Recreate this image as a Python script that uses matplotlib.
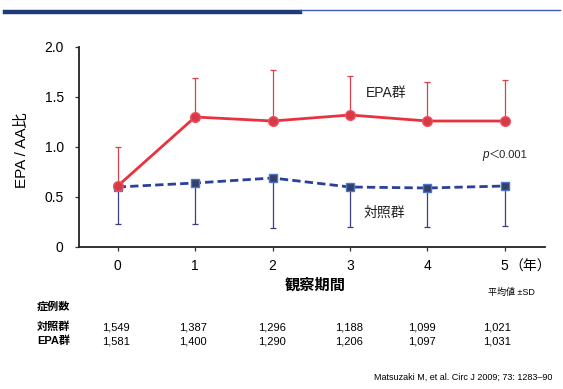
import matplotlib
matplotlib.use("Agg")
import matplotlib.pyplot as plt
from matplotlib.lines import Line2D

plt.rcParams["font.family"] = ["Liberation Sans", "Noto Sans CJK JP"]

# observation period (years)
years = [0, 1, 2, 3, 4, 5]

# EPA/AA ratio, mean and SD (upper whisker only)
epa_mean = [0.61, 1.30, 1.26, 1.32, 1.26, 1.26]
epa_upper = [1.00, 1.69, 1.77, 1.71, 1.65, 1.67]

# control group, mean and SD (lower whisker only)
ctl_mean = [0.60, 0.64, 0.69, 0.60, 0.59, 0.61]
ctl_lower = [0.23, 0.23, 0.19, 0.20, 0.20, 0.21]

ytick_vals = [0, 0.5, 1.0, 1.5, 2.0]
ytick_labels = ["0", "0.5", "1.0", "1.5", "2.0"]

# number of cases table
n_ctl = ["1,549", "1,387", "1,296", "1,188", "1,099", "1,021"]
n_epa = ["1,581", "1,400", "1,290", "1,206", "1,097", "1,031"]

RED = "#e8333f"
BLUE = "#2b3f9c"

W, H = 563, 389
fig = plt.figure(figsize=(W / 100, H / 100), dpi=100)
fig.patch.set_facecolor("white")

# header bar at the top
fig.add_artist(Line2D([5 / W, 300 / W], [1 - 12 / H] * 2, color="#1f3a78", lw=3.2))
fig.add_artist(Line2D([300 / W, 560 / W], [1 - 9.5 / H] * 2, color="#3b5bb8", lw=1.0))

ax = fig.add_axes([79 / W, 1 - 247 / H, (545 - 79) / W, (247 - 47) / H])

# error bars
epa_err = [[0] * len(years), [u - m for u, m in zip(epa_upper, epa_mean)]]
ctl_err = [[m - l for m, l in zip(ctl_mean, ctl_lower)], [0] * len(years)]
ax.errorbar(years, epa_mean, yerr=epa_err, fmt="none", ecolor="#d8404f",
            elinewidth=0.9, capsize=2.5, capthick=0.9, zorder=2)
ax.errorbar(years, ctl_mean, yerr=ctl_err, fmt="none", ecolor="#3a3f80",
            elinewidth=0.9, capsize=2.5, capthick=0.9, zorder=2)

ax.plot(years, ctl_mean, color=BLUE, lw=2.0, ls=(0, (3, 1.5)), marker="s",
        markersize=6, markerfacecolor="#34406a", markeredgecolor="#4a78c8",
        markeredgewidth=1.0, zorder=3)
ax.plot(years, epa_mean, color=RED, lw=2.0, marker="o", markersize=7,
        markerfacecolor="#d63a48", markeredgecolor="#f0505a",
        markeredgewidth=1.0, zorder=4)

ax.set_xlim(-0.5, 5.52)
ax.set_ylim(0, 2.0)
ax.set_xticks(years)
ax.set_xticklabels([str(y) for y in years])
ax.set_yticks(ytick_vals)
ax.set_yticklabels(ytick_labels)
ax.tick_params(axis="both", labelsize=10, length=3, width=0.9, color="#333333")
ax.tick_params(axis="x", pad=6)
ax.tick_params(axis="y", pad=8)
for s in ["top", "right"]:
    ax.spines[s].set_visible(False)
for s in ["left", "bottom"]:
    ax.spines[s].set_linewidth(1.3)
    ax.spines[s].set_color("#222222")

ax.text(3.47, 1.54, "EPA群", fontsize=10, ha="center", va="center", color="#222222")
ax.text(3.45, 0.34, "対照群", fontsize=10, ha="center", va="center", color="#222222")
ax.text(4.80, 0.92, "p", fontsize=8.5, style="italic", ha="right", va="center", color="#222222")
ax.text(4.80, 0.92, "＜0.001", fontsize=8, ha="left", va="center", color="#222222")

fig.text(22 / W, 1 - 150 / H, "EPA / AA比", rotation=90, fontsize=11,
         ha="center", va="center")
fig.text(530 / W, 1 - 267 / H, "（年）", fontsize=10, ha="center", va="center")
fig.text(315 / W, 1 - 286 / H, "観察期間", fontsize=11, fontweight="bold",
         ha="center", va="center")
fig.text(511 / W, 1 - 292 / H, "平均値 ±SD", fontsize=6.5, ha="center", va="center")

fig.text(37 / W, 1 - 306 / H, "症例数", fontsize=8, fontweight="bold", ha="left", va="center")
fig.text(37 / W, 1 - 327 / H, "対照群", fontsize=8, fontweight="bold", ha="left", va="center")
fig.text(37 / W, 1 - 341 / H, "EPA群", fontsize=8, fontweight="bold", ha="left", va="center")
col_x = [102, 179, 258, 335, 408, 483]
for cx, a, b in zip(col_x, n_ctl, n_epa):
    fig.text(cx / W, 1 - 327 / H, a, fontsize=8, ha="left", va="center")
    fig.text(cx / W, 1 - 341 / H, b, fontsize=8, ha="left", va="center")

fig.text(552 / W, 1 - 377 / H, "Matsuzaki M, et al. Circ J 2009; 73: 1283–90",
         fontsize=6.5, ha="right", va="center")

fig.savefig("out.png", dpi=100)
